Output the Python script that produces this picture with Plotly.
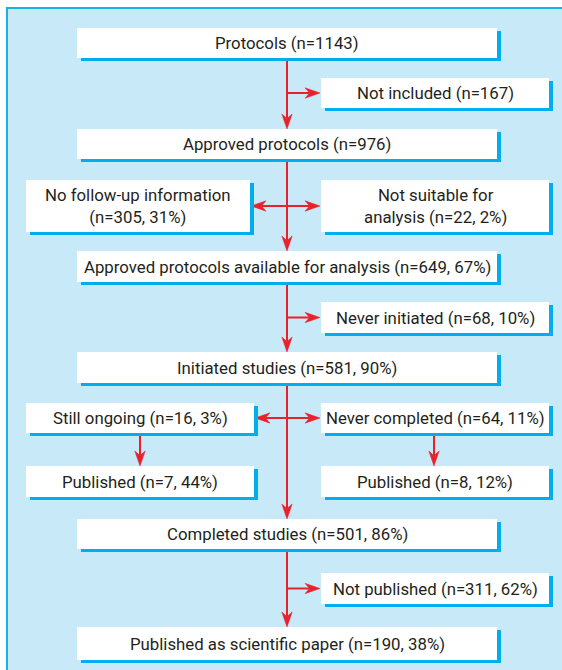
import plotly.graph_objects as go

# ---------------- data ----------------
node_ids = ["protocols", "not_included", "approved", "no_followup", "not_suitable",
            "available", "never_init", "initiated", "ongoing", "never_completed",
            "pub_ongoing", "pub_never", "completed", "not_published", "published"]
label_templates = [
    "Protocols (n={n})",
    "Not included (n={n})",
    "Approved protocols (n={n})",
    "No follow-up information<br>(n={n}, {p}%)",
    "Not suitable for<br>analysis (n={n}, {p}%)",
    "Approved protocols available for analysis (n={n}, {p}%)",
    "Never initiated (n={n}, {p}%)",
    "Initiated studies (n={n}, {p}%)",
    "Still ongoing (n={n}, {p}%)",
    "Never completed (n={n}, {p}%)",
    "Published (n={n}, {p}%)",
    "Published (n={n}, {p}%)",
    "Completed studies (n={n}, {p}%)",
    "Not published (n={n}, {p}%)",
    "Published as scientific paper (n={n}, {p}%)",
]
n_values = [1143, 167, 976, 305, 22, 649, 68, 581, 16, 64, 7, 8, 501, 311, 190]
pct_values = [None, None, None, 31, 2, 67, 10, 90, 3, 11, 44, 12, 86, 62, 38]

# main trunk flow and side branches (source -> target)
trunk = ["protocols", "approved", "available", "initiated", "completed", "published"]
branches = [("protocols", "not_included"), ("approved", "no_followup"), ("approved", "not_suitable"),
            ("available", "never_init"), ("initiated", "ongoing"), ("initiated", "never_completed"),
            ("completed", "not_published")]
sub_flows = [("ongoing", "pub_ongoing"), ("never_completed", "pub_never")]

# ---------------- layout (pixel geometry) ----------------
W, H = 562, 670
MAIN = (77, 497)
RIGHT = (321, 549)
box_pos = {
    "protocols": (MAIN[0], 28, MAIN[1], 58),
    "not_included": (RIGHT[0], 78, RIGHT[1], 108),
    "approved": (MAIN[0], 129, MAIN[1], 159),
    "no_followup": (26, 180, 250, 232),
    "not_suitable": (RIGHT[0], 180, RIGHT[1], 232),
    "available": (MAIN[0], 251, MAIN[1], 282),
    "never_init": (RIGHT[0], 302, RIGHT[1], 333),
    "initiated": (MAIN[0], 352, MAIN[1], 383),
    "ongoing": (26, 403, 254, 433),
    "never_completed": (RIGHT[0], 403, RIGHT[1], 433),
    "pub_ongoing": (26, 466, 254, 497),
    "pub_never": (RIGHT[0], 466, RIGHT[1], 497),
    "completed": (MAIN[0], 519, MAIN[1], 549),
    "not_published": (RIGHT[0], 573, RIGHT[1], 604),
    "published": (MAIN[0], 627, MAIN[1], 660),
}
sub_x = {"ongoing": 140, "never_completed": 434}
TRUNK_X = 287

PANEL_FILL = "#c7e9f8"
PANEL_LINE = "#1ab2e6"
SHADOW = "#00aeef"
RED = "#e8212b"
TEXT = "#231f20"
FONT = "Roboto, Liberation Sans Narrow, Arial Narrow, sans-serif"

shapes = []
annotations = []

# panel
shapes.append(dict(type="rect", x0=7, y0=8, x1=W + 5, y1=H + 5, xref="x", yref="y",
                   fillcolor=PANEL_FILL, line=dict(color=PANEL_LINE, width=2), layer="below"))


def arrow(x0, y0, x1, y1):
    L, HW, N = 15, 5.2, 4.5
    dx, dy = x1 - x0, y1 - y0
    d = (dx * dx + dy * dy) ** 0.5
    ux, uy = dx / d, dy / d
    px, py = -uy, ux
    bx, by = x1 - L * ux, y1 - L * uy
    nx, ny = bx + N * ux, by + N * uy
    shapes.append(dict(type="line", x0=x0, y0=y0, x1=nx, y1=ny, xref="x", yref="y",
                       line=dict(color=RED, width=2)))
    path = (f"M{x1},{y1} L{bx + HW * px},{by + HW * py} L{nx},{ny} "
            f"L{bx - HW * px},{by - HW * py} Z")
    shapes.append(dict(type="path", path=path, xref="x", yref="y",
                       fillcolor=RED, line=dict(color=RED, width=0.5)))


for a, b in zip(trunk[:-1], trunk[1:]):
    arrow(TRUNK_X, box_pos[a][3], TRUNK_X, box_pos[b][1])
for src, dst in branches:
    bx0, by0, bx1, by1 = box_pos[dst]
    ymid = (by0 + by1) / 2
    if bx0 > TRUNK_X:
        arrow(TRUNK_X, ymid, bx0 - 1, ymid)
    else:
        arrow(TRUNK_X, ymid, bx1 + 1, ymid)
for src, dst in sub_flows:
    x = sub_x[src]
    arrow(x, box_pos[src][3], x, box_pos[dst][1])

# boxes: shadow then white box, then text
for i, nid in enumerate(node_ids):
    x0, y0, x1, y1 = box_pos[nid]
    shapes.append(dict(type="rect", x0=x0 + 4, y0=y0 + 3, x1=x1 + 4, y1=y1 + 3, xref="x", yref="y",
                       fillcolor=SHADOW, line=dict(width=0)))
    shapes.append(dict(type="rect", x0=x0, y0=y0, x1=x1, y1=y1, xref="x", yref="y",
                       fillcolor="white", line=dict(width=0)))
    txt = label_templates[i].format(n=n_values[i], p=pct_values[i])
    annotations.append(dict(x=(x0 + x1) / 2, y=(y0 + y1) / 2, xref="x", yref="y", text=txt,
                            showarrow=False, xanchor="center", yanchor="middle",
                            font=dict(family=FONT, size=16.8, color=TEXT)))

fig = go.Figure()
fig.update_layout(
    width=W, height=H, margin=dict(l=0, r=0, t=0, b=0),
    paper_bgcolor="white", plot_bgcolor="white",
    xaxis=dict(range=[0, W], visible=False, fixedrange=True),
    yaxis=dict(range=[H, 0], visible=False, fixedrange=True),
    shapes=shapes, annotations=annotations, showlegend=False,
)
fig.write_html("out.html", config={"displayModeBar": False},
               post_script="document.body.style.margin='0';document.body.style.overflow='hidden';")
